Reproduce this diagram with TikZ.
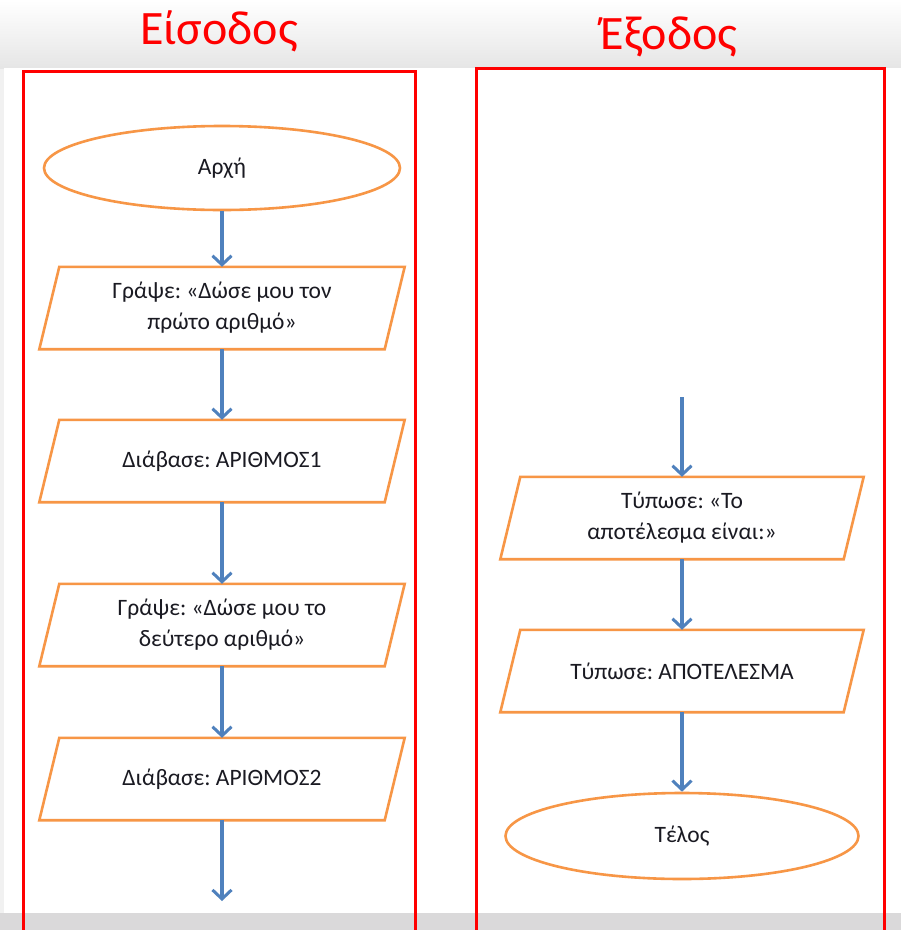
\documentclass[tikz,border=0pt]{standalone}
\usepackage{fontspec}
\setmainfont{Carlito}
\frenchspacing
\usetikzlibrary{shapes.geometric,arrows.meta}
\definecolor{boxred}{HTML}{FF0000}
\definecolor{shapeorange}{HTML}{F79646}
\definecolor{arrowblue}{HTML}{4F81BD}
\definecolor{txtdark}{HTML}{1A1A22}
\definecolor{bggray}{HTML}{F1F1F1}
\definecolor{bandgray}{HTML}{DAD9DA}
\tikzset{
  title/.style={text=boxred, font=\fontsize{48}{52}\selectfont, anchor=base},
  frame/.style={draw=boxred, line width=3pt},
  term/.style={ellipse, draw=shapeorange, line width=2.6pt, fill=white, text=txtdark,
    font=\fontsize{23.5}{31}\selectfont, inner sep=0pt},
  io/.style={draw=none, minimum width=365pt, minimum height=82pt, inner sep=0pt,
    text=txtdark, align=center, font=\fontsize{23.5}{31}\selectfont},
  pshape/.style={draw=shapeorange, line width=2.6pt, line join=miter},
  flow/.style={draw=arrowblue, line width=3.2pt, -{Straight Barb[length=9pt,width=19pt,line width=3pt]}},
}
\begin{document}
\begin{tikzpicture}[x=1pt,y=-1pt]
\useasboundingbox (0,0) rectangle (901,930);
% background
\fill[bggray] (0,0) rectangle (901,930);
\shade[top color=white, bottom color=bggray!90!gray] (0,0) rectangle (901,68);
\fill[white] (4,68) rectangle (901,913);
\fill[bandgray] (0,913) rectangle (901,930);
% titles
\node[title] (tin) at (219,44) {Είσοδος};
\node[title] (tout) at (669,49) {Έξοδος};
% frames
\draw[frame] (23,930) -- (23,71) -- (415,71) -- (415,930);
\draw[frame] (476,930) -- (476,68) -- (884,68) -- (884,930);
% left column
\node[term, minimum width=356pt, minimum height=84pt] (start) at (222,168) {Αρχή};
\node[io] (p1) at (222,308) {Γράψε: «Δώσε μου τον\\πρώτο αριθμό»};
\node[io] (p2) at (222,461) {Διάβασε: ΑΡΙΘΜΟΣ1};
\node[io] (p3) at (222,625) {Γράψε: «Δώσε μου το\\δεύτερο αριθμό»};
\node[io] (p4) at (222,779) {Διάβασε: ΑΡΙΘΜΟΣ2};
\coordinate (lend) at (222,901);
% right column
\coordinate (rstart) at (682,397);
\node[io, minimum width=363pt] (r1) at (682,518) {Τύπωσε: «Το\\αποτέλεσμα είναι:»};
\node[io, minimum width=363pt] (r2) at (682,671) {Τύπωσε: ΑΠΟΤΕΛΕΣΜΑ};
\node[term, minimum width=353pt, minimum height=86pt] (end) at (682,836) {Τέλος};
% parallelograms
\foreach \n in {p1,p2,p3,p4,r1,r2}{
  \draw[pshape] ([xshift=20pt]\n.north west) -- (\n.north east)
    -- ([xshift=-20pt]\n.south east) -- (\n.south west) -- cycle;
}
% connectors
\draw[flow] (start.south) -- (p1.north);
\draw[flow] (p1.south) -- (p2.north);
\draw[flow] (p2.south) -- (p3.north);
\draw[flow] (p3.south) -- (p4.north);
\draw[flow] (p4.south) -- (lend);
\draw[flow] (rstart) -- (r1.north);
\draw[flow] (r1.south) -- (r2.north);
\draw[flow] (r2.south) -- (end.north);
\end{tikzpicture}
\end{document}
